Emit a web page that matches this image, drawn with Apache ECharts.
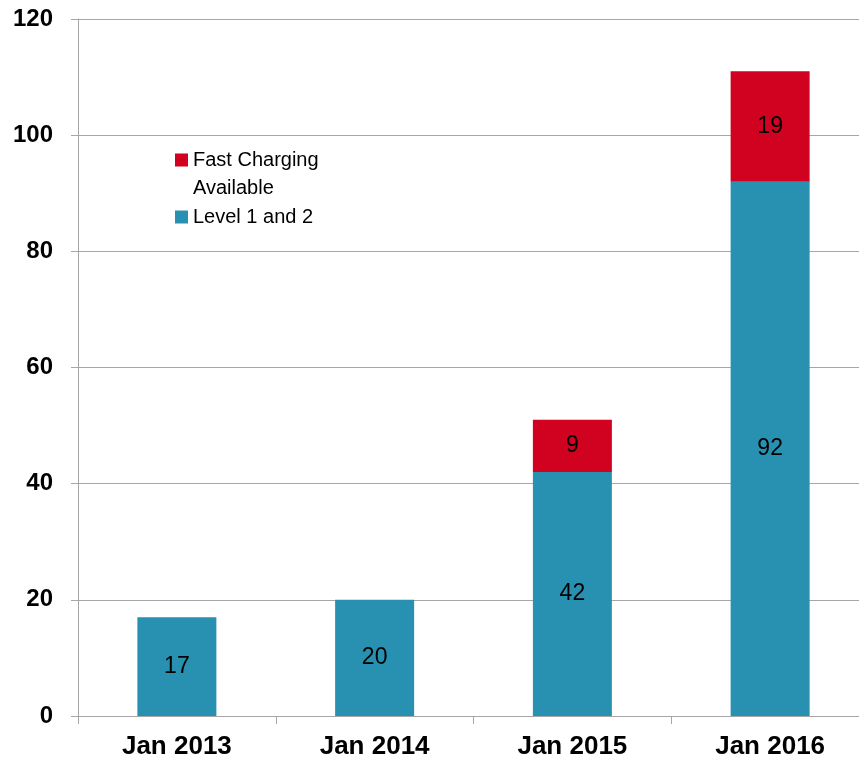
<!DOCTYPE html>
<html>
<head>
<meta charset="utf-8">
<script src="https://cdn.jsdelivr.net/npm/echarts@6/dist/echarts.min.js"></script>
<style>
  html, body { margin: 0; padding: 0; background: #fff; }
  #chart { width: 859px; height: 764px; }
</style>
</head>
<body>
<div id="chart"></div>
<script>
var categories = ['Jan 2013', 'Jan 2014', 'Jan 2015', 'Jan 2016'];
var level12 = [17, 20, 42, 92];
var fastCharging = ['-', '-', 9, 19];
var yTicks = [0, 20, 40, 60, 80, 100, 120];

var myChart = echarts.init(document.getElementById('chart'));
var option = {
    animation: false,
    grid: {
        left: 78,
        right: -10,
        top: 19,
        bottom: 48,
        containLabel: false,
        outerBoundsMode: 'none'
    },
    legend: {
        orient: 'vertical',
        left: 170,
        top: 145,
        itemWidth: 13,
        itemHeight: 13,
        itemGap: 37,
        icon: 'rect',
        data: ['Fast Charging Available', 'Level 1 and 2'],
        formatter: function (name) {
            return name === 'Fast Charging Available' ? 'Fast Charging' : name;
        },
        textStyle: {
            fontFamily: 'Liberation Sans',
            fontSize: 20,
            color: '#000'
        }
    },
    graphic: [{
        type: 'text',
        left: 193,
        top: 178,
        style: {
            text: 'Available',
            fontFamily: 'Liberation Sans',
            fontSize: 20,
            fill: '#000'
        }
    }],
    xAxis: {
        type: 'category',
        data: categories,
        axisLine: { lineStyle: { color: '#a6a6a6', width: 1 } },
        axisTick: { show: true, length: 8, lineStyle: { color: '#a6a6a6' } },
        axisLabel: {
            margin: 18,
            fontFamily: 'Liberation Sans',
            fontWeight: 'bold',
            fontSize: 26,
            color: '#000'
        }
    },
    yAxis: {
        type: 'value',
        min: yTicks[0],
        max: yTicks[yTicks.length - 1],
        interval: 20,
        axisLine: { show: true, lineStyle: { color: '#a6a6a6', width: 1 } },
        axisTick: { show: true, length: 7, lineStyle: { color: '#a6a6a6' } },
        splitLine: { lineStyle: { color: '#a6a6a6', width: 1 } },
        axisLabel: {
            margin: 25,
            fontFamily: 'Liberation Sans',
            fontWeight: 'bold',
            fontSize: 24,
            color: '#000'
        }
    },
    series: [{
        name: 'Level 1 and 2',
        type: 'bar',
        stack: 'total',
        barWidth: 79,
        data: level12,
        itemStyle: { color: '#2891b1' },
        label: {
            show: true,
            position: 'inside',
            fontFamily: 'Liberation Sans',
            fontSize: 23,
            color: '#000'
        }
    }, {
        name: 'Fast Charging Available',
        type: 'bar',
        stack: 'total',
        barWidth: 79,
        data: fastCharging,
        itemStyle: { color: '#d0021f' },
        label: {
            show: true,
            position: 'inside',
            fontFamily: 'Liberation Sans',
            fontSize: 23,
            color: '#000'
        }
    }]
};
myChart.setOption(option);
</script>
</body>
</html>
